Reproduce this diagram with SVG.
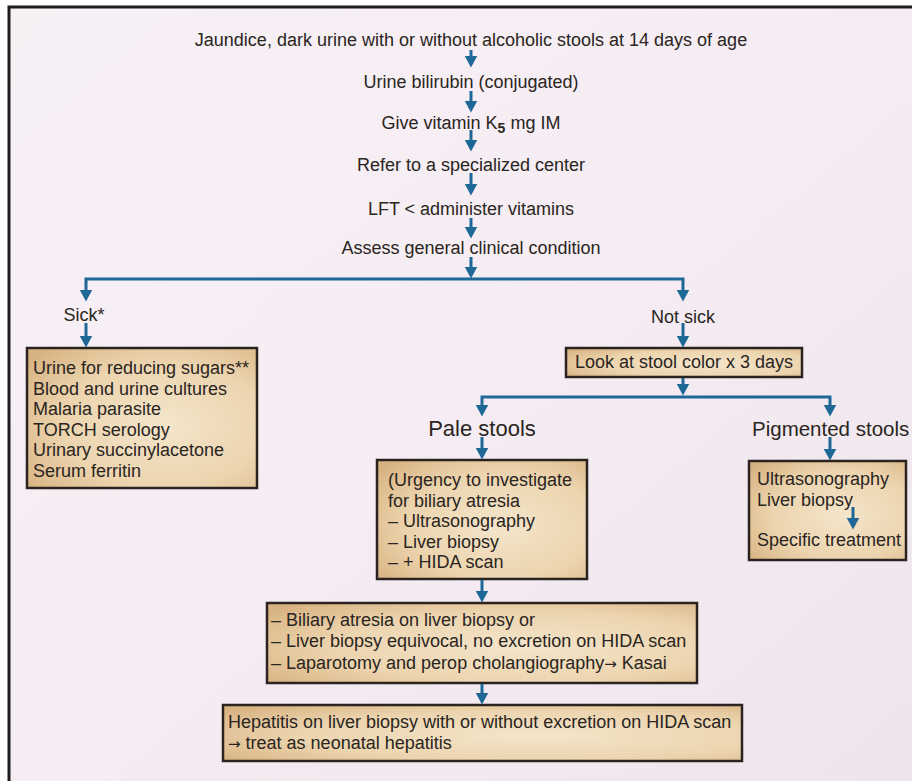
<svg xmlns="http://www.w3.org/2000/svg" width="912" height="781" viewBox="0 0 912 781">
<defs>
<linearGradient id="bg" x1="0" y1="0" x2="1" y2="1">
<stop offset="0" stop-color="#f7f0f5"/>
<stop offset="0.5" stop-color="#f5edf3"/>
<stop offset="1" stop-color="#efe4ec"/>
</linearGradient>
<radialGradient id="boxfill" cx="0.6" cy="0.55" r="0.75">
<stop offset="0" stop-color="#f4e5cb"/>
<stop offset="0.6" stop-color="#ecd4ae"/>
<stop offset="1" stop-color="#d8b382"/>
</radialGradient>
<marker id="ah" markerUnits="userSpaceOnUse" markerWidth="14" markerHeight="14" refX="0.5" refY="6.5" orient="auto">
<path d="M0,0 L12,6.5 L0,13 z" fill="#1d6896"/>
</marker>
<style>
.t{font-family:"Liberation Sans",Arial,Helvetica,sans-serif;font-size:18px;fill:#2a2521}
.c{text-anchor:middle}
.big{font-size:22px}
.big2{font-size:20.5px}
.arr{font-family:"DejaVu Sans",sans-serif;font-size:15px}
.box{fill:url(#boxfill);stroke:#2a2320;stroke-width:2.5}
.ln{fill:none;stroke:#1d6896;stroke-width:3;marker-end:url(#ah)}
</style>
</defs>
<rect x="0" y="0" width="912" height="781" fill="#ffffff"/>
<rect x="9" y="7" width="903" height="774" fill="url(#bg)"/>
<path d="M9,781 V7 H912" fill="none" stroke="#1e1c1e" stroke-width="3"/>

<g id="n-jaundice"><text class="t c" x="471" y="46">Jaundice, dark urine with or without alcoholic stools at 14 days of age</text></g>
<g id="n-urine"><text class="t c" x="471" y="88">Urine bilirubin (conjugated)</text></g>
<g id="n-vitk"><text class="t c" x="471" y="129">Give vitamin K<tspan dy="4" font-size="14" font-weight="bold">5</tspan><tspan dy="-4"> mg IM</tspan></text></g>
<g id="n-refer"><text class="t c" x="471" y="171">Refer to a specialized center</text></g>
<g id="n-lft"><text class="t c" x="471" y="215">LFT &lt; administer vitamins</text></g>
<g id="n-assess"><text class="t c" x="471" y="254">Assess general clinical condition</text></g>

<g id="n-sick"><text class="t c" x="84" y="321">Sick*</text></g>
<g id="n-notsick"><text class="t c" x="683" y="323">Not sick</text></g>

<g id="n-sickbox">
<rect class="box" x="27" y="348" width="230" height="140"/>
<text class="t" x="33" y="374">Urine for reducing sugars**</text>
<text class="t" x="33" y="394.5">Blood and urine cultures</text>
<text class="t" x="33" y="415">Malaria parasite</text>
<text class="t" x="33" y="435.5">TORCH serology</text>
<text class="t" x="33" y="456">Urinary succinylacetone</text>
<text class="t" x="33" y="476.5">Serum ferritin</text>
</g>

<g id="n-stoolcolor">
<rect class="box" x="566" y="348" width="236" height="29"/>
<text class="t c" x="684" y="368">Look at stool color x 3 days</text>
</g>

<g id="n-pale"><text class="t big c" x="482" y="436">Pale stools</text></g>
<g id="n-pigmented"><text class="t big2" x="752" y="436">Pigmented stools</text></g>

<g id="n-palebox">
<rect class="box" x="377" y="460" width="210" height="119"/>
<text class="t" x="388" y="486">(Urgency to investigate</text>
<text class="t" x="388" y="506.5">for biliary atresia</text>
<text class="t" x="388" y="527">– Ultrasonography</text>
<text class="t" x="388" y="547.5">– Liver biopsy</text>
<text class="t" x="388" y="568">– + HIDA scan</text>
</g>

<g id="n-pigbox">
<rect class="box" x="749" y="461" width="157" height="99"/>
<text class="t" x="757" y="485">Ultrasonography</text>
<text class="t" x="757" y="506">Liver biopsy</text>
<text class="t" x="757" y="546">Specific treatment</text>
</g>

<g id="n-atresia">
<rect class="box" x="267" y="603" width="430" height="80"/>
<text class="t" x="271" y="626">– Biliary atresia on liver biopsy or</text>
<text class="t" x="271" y="647">– Liver biopsy equivocal, no excretion on HIDA scan</text>
<text class="t" x="271" y="669">– Laparotomy and perop cholangiography<tspan class="arr">→</tspan> Kasai</text>
</g>

<g id="n-hepatitis">
<rect class="box" x="223" y="705" width="519" height="56"/>
<text class="t" x="228" y="728">Hepatitis on liver biopsy with or without excretion on HIDA scan</text>
<text class="t" x="228" y="749"><tspan class="arr">→</tspan> treat as neonatal hepatitis</text>
</g>

<g id="connectors">
<path class="ln" d="M471,50 V56"/>
<path class="ln" d="M471,91 V101"/>
<path class="ln" d="M471,130 V140"/>
<path class="ln" d="M471,173 V184"/>
<path class="ln" d="M471,218 V227"/>
<path class="ln" d="M471,257 V267"/>
<path class="ln" d="M471,279 H86 V290"/>
<path class="ln" d="M471,279 H683 V290"/>
<path class="ln" d="M86,323 V336"/>
<path class="ln" d="M683,323 V336"/>
<path class="ln" d="M683,378 V384"/>
<path class="ln" d="M683,397 H482 V405"/>
<path class="ln" d="M683,397 H830 V405"/>
<path class="ln" d="M482,437 V448"/>
<path class="ln" d="M830,437 V449"/>
<path class="ln" d="M853,507 V518"/>
<path class="ln" d="M482,580 V591"/>
<path class="ln" d="M482,684 V693"/>
</g>
</svg>
